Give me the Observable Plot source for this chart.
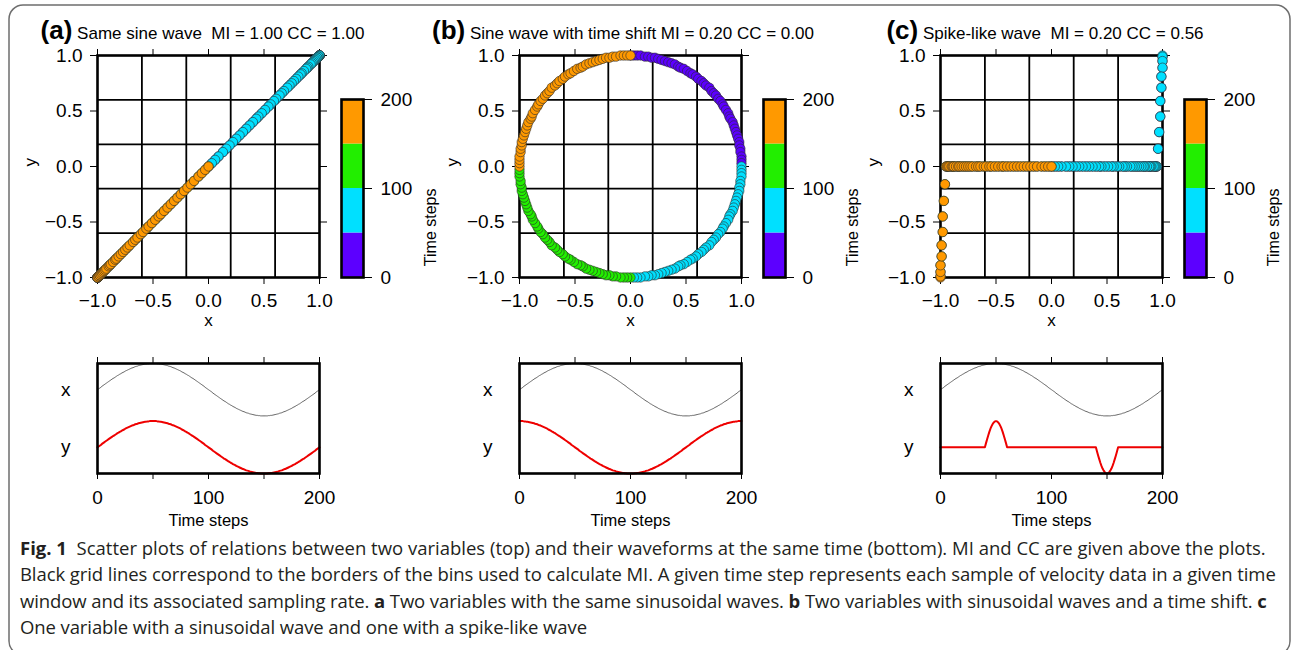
<!DOCTYPE html>
<html>
<head>
<meta charset="utf-8">
<script src="https://cdn.jsdelivr.net/npm/d3@7"></script>
<script src="https://cdn.jsdelivr.net/npm/@observablehq/plot@0.6"></script>
<style>
  html, body { margin: 0; padding: 0; background: #fff; }
  #root { position: relative; width: 1291px; height: 650px; overflow: hidden; background: #fff; }
  #overlay { position: absolute; left: 0; top: 0; }
  .cap { font-family: "Open Sans", "Noto Sans", sans-serif; font-size: 18.5px; fill: #231f20; white-space: pre; }
  .ttl { font-family: "Liberation Sans", Arial, sans-serif; fill: #000; white-space: pre; }
</style>
</head>
<body>
<div id="root">
<svg id="overlay" width="1291" height="650" xmlns="http://www.w3.org/2000/svg">
  <rect x="9" y="5" width="1281" height="650" rx="14" ry="14" fill="none" stroke="#6e6e6e" stroke-width="1.5"/>
  <g id="titles"></g>
  <text class="cap" x="20" y="555"><tspan font-weight="bold">Fig. 1</tspan>  Scatter plots of relations between two variables (top) and their waveforms at the same time (bottom). MI and CC are given above the plots.</text>
  <text class="cap" x="20" y="581" letter-spacing="-0.08">Black grid lines correspond to the borders of the bins used to calculate MI. A given time step represents each sample of velocity data in a given time</text>
  <text class="cap" x="20" y="607.5" letter-spacing="-0.1">window and its associated sampling rate. <tspan font-weight="bold">a</tspan> Two variables with the same sinusoidal waves. <tspan font-weight="bold">b</tspan> Two variables with sinusoidal waves and a time shift. <tspan font-weight="bold">c</tspan></text>
  <text class="cap" x="20" y="634" letter-spacing="-0.1">One variable with a sinusoidal wave and one with a spike-like wave</text>
</svg>
</div>
<script>
// ---------- data ----------
const timeSteps = d3.range(201); // sample index 0..200

const sineWave = [0,
 .03,.06,.09,.13,.16,.19,.22,.25,.28,.31,.34,.37,.40,.43,.45,.48,.51,.54,.56,.59,.61,.64,.66,.68,.71,.73,.75,.77,.79,.81,.83,.84,.86,.88,.89,.90,.92,.93,.94,.95,.96,.97,.98,.98,.99,.99,1,1,1,1,
 1,1,1,.99,.99,.98,.98,.97,.96,.95,.94,.93,.92,.90,.89,.88,.86,.84,.83,.81,.79,.77,.75,.73,.71,.68,.66,.64,.61,.59,.56,.54,.51,.48,.45,.43,.40,.37,.34,.31,.28,.25,.22,.19,.16,.13,.09,.06,.03,0,
 -.03,-.06,-.09,-.13,-.16,-.19,-.22,-.25,-.28,-.31,-.34,-.37,-.40,-.43,-.45,-.48,-.51,-.54,-.56,-.59,-.61,-.64,-.66,-.68,-.71,-.73,-.75,-.77,-.79,-.81,-.83,-.84,-.86,-.88,-.89,-.90,-.92,-.93,-.94,-.95,-.96,-.97,-.98,-.98,-.99,-.99,-1,-1,-1,-1,
 -1,-1,-1,-.99,-.99,-.98,-.98,-.97,-.96,-.95,-.94,-.93,-.92,-.90,-.89,-.88,-.86,-.84,-.83,-.81,-.79,-.77,-.75,-.73,-.71,-.68,-.66,-.64,-.61,-.59,-.56,-.54,-.51,-.48,-.45,-.43,-.40,-.37,-.34,-.31,-.28,-.25,-.22,-.19,-.16,-.13,-.09,-.06,-.03,0];

// y in (b): same sinusoid shifted by a quarter period
const cosWave = [1,
 1,1,1,.99,.99,.98,.98,.97,.96,.95,.94,.93,.92,.90,.89,.88,.86,.84,.83,.81,.79,.77,.75,.73,.71,.68,.66,.64,.61,.59,.56,.54,.51,.48,.45,.43,.40,.37,.34,.31,.28,.25,.22,.19,.16,.13,.09,.06,.03,0,
 -.03,-.06,-.09,-.13,-.16,-.19,-.22,-.25,-.28,-.31,-.34,-.37,-.40,-.43,-.45,-.48,-.51,-.54,-.56,-.59,-.61,-.64,-.66,-.68,-.71,-.73,-.75,-.77,-.79,-.81,-.83,-.84,-.86,-.88,-.89,-.90,-.92,-.93,-.94,-.95,-.96,-.97,-.98,-.98,-.99,-.99,-1,-1,-1,-1,
 -1,-1,-1,-.99,-.99,-.98,-.98,-.97,-.96,-.95,-.94,-.93,-.92,-.90,-.89,-.88,-.86,-.84,-.83,-.81,-.79,-.77,-.75,-.73,-.71,-.68,-.66,-.64,-.61,-.59,-.56,-.54,-.51,-.48,-.45,-.43,-.40,-.37,-.34,-.31,-.28,-.25,-.22,-.19,-.16,-.13,-.09,-.06,-.03,0,
 .03,.06,.09,.13,.16,.19,.22,.25,.28,.31,.34,.37,.40,.43,.45,.48,.51,.54,.56,.59,.61,.64,.66,.68,.71,.73,.75,.77,.79,.81,.83,.84,.86,.88,.89,.90,.92,.93,.94,.95,.96,.97,.98,.98,.99,.99,1,1,1,1];

// y in (c): spike-like wave (positive bump near t=50, negative near t=150)
const spikeWave = [
 0,0,0,0,0,0,0,0,0,0, 0,0,0,0,0,0,0,0,0,0, 0,0,0,0,0,0,0,0,0,0, 0,0,0,0,0,0,0,0,0,0, 0,
 .16,.31,.45,.59,.71,.81,.89,.95,.99,1,.99,.95,.89,.81,.71,.59,.45,.31,.16,
 0,0,0,0,0,0,0,0,0,0, 0,0,0,0,0,0,0,0,0,0, 0,0,0,0,0,0,0,0,0,0, 0,0,0,0,0,0,0,0,0,0,
 0,0,0,0,0,0,0,0,0,0, 0,0,0,0,0,0,0,0,0,0, 0,0,0,0,0,0,0,0,0,0, 0,0,0,0,0,0,0,0,0,0, 0,
 -.16,-.31,-.45,-.59,-.71,-.81,-.89,-.95,-.99,-1,-.99,-.95,-.89,-.81,-.71,-.59,-.45,-.31,-.16,
 0,0,0,0,0,0,0,0,0,0, 0,0,0,0,0,0,0,0,0,0, 0,0,0,0,0,0,0,0,0,0, 0,0,0,0,0,0,0,0,0,0, 0];

const panelTags = ["(a)", "(b)", "(c)"];
const panelTitles = ["Same sine wave  MI = 1.00 CC = 1.00",
                     "Sine wave with time shift MI = 0.20 CC = 0.00",
                     "Spike-like wave  MI = 0.20 CC = 0.56"];
const ySeries = [sineWave, cosWave, spikeWave];

const binEdges = [-0.6, -0.2, 0.2, 0.6];
const scatterTicks = [-1, -0.5, 0, 0.5, 1];
const colorThresholds = [50, 100, 150];
const colorRange = ["#5c00ff", "#00e0ff", "#22ee00", "#ff9900"];
const colorbarLow = [0, 50, 100, 150];
const colorbarHigh = [50, 100, 150, 200];
const colorbarTicks = [0, 100, 200];
const waveTicks = [0, 50, 100, 150, 200];
const waveLabelTicks = [0, 100, 200];
const traceNames = ["x", "y"];

// ---------- drawing ----------
const FONT = '"Liberation Sans", Arial, Helvetica, sans-serif';
const fmt1 = d3.format(".1f");
const traceOffset = 2.2;
const offsets = [0, 422, 843];
const root = document.getElementById("root");
const colorScale = {type: "threshold", domain: colorThresholds, range: colorRange};
const baseStyle = {background: "transparent", fontFamily: FONT, fontSize: "19px", color: "#000", overflow: "visible"};

function place(node, left, top) {
  const d = document.createElement("div");
  d.style.cssText = `position:absolute;left:${left}px;top:${top}px;`;
  d.appendChild(node);
  root.appendChild(d);
}

function scatter(yVals) {
  return Plot.plot({
    width: 340, height: 305, marginLeft: 97, marginRight: 21, marginTop: 25, marginBottom: 58,
    style: baseStyle,
    x: {domain: [-1, 1]}, y: {domain: [-1, 1]},
    color: colorScale,
    marks: [
      Plot.ruleX(binEdges, {stroke: "#000", strokeWidth: 1.8}),
      Plot.ruleY(binEdges, {stroke: "#000", strokeWidth: 1.8}),
      Plot.frame({stroke: "#000", strokeWidth: 2.6}),
      Plot.axisX(scatterTicks, {anchor: "bottom", tickSize: 7, tickPadding: 9, tickFormat: fmt1, label: null}),
      Plot.axisX(scatterTicks, {anchor: "top", tickSize: 7, tickFormat: () => "", label: null}),
      Plot.axisY(scatterTicks, {anchor: "left", tickSize: 7, tickPadding: 8, tickFormat: fmt1, label: null}),
      Plot.axisY(scatterTicks, {anchor: "right", tickSize: 7, tickFormat: () => "", label: null}),
      Plot.dot(timeSteps, {x: sineWave, y: yVals, fill: timeSteps, r: 4.7, stroke: "#2a2a2a", strokeWidth: 0.6}),
      Plot.text(["x"], {frameAnchor: "bottom", dy: 48, fontSize: 17}),
      Plot.text(["y"], {frameAnchor: "left", dx: -67, rotate: -90, fontSize: 17})
    ]
  });
}

function colorbar() {
  return Plot.plot({
    width: 113, height: 305, marginLeft: 11, marginRight: 80, marginTop: 69, marginBottom: 58,
    style: baseStyle,
    x: {domain: [0, 1], axis: null}, y: {domain: [0, 200]},
    color: colorScale,
    marks: [
      Plot.rect(colorbarLow, {x1: 0, x2: 1, y1: colorbarLow, y2: colorbarHigh, fill: colorbarLow}),
      Plot.frame({stroke: "#000", strokeWidth: 2.6}),
      Plot.axisY(colorbarTicks, {anchor: "right", tickSize: 8, tickPadding: 9, tickFormat: d => String(d), label: null}),
      Plot.text(["Time steps"], {frameAnchor: "right", dx: 67, rotate: -90, fontSize: 16})
    ]
  });
}

function waves(yVals) {
  return Plot.plot({
    width: 340, height: 193, marginLeft: 97, marginRight: 21, marginTop: 23, marginBottom: 60,
    style: baseStyle,
    x: {domain: [0, 200]}, y: {domain: [-1, 3.2]},
    marks: [
      Plot.line(timeSteps, {x: timeSteps, y: (d, i) => sineWave[i] + traceOffset, stroke: "#555", strokeWidth: 0.9}),
      Plot.line(timeSteps, {x: timeSteps, y: yVals, stroke: "#ee0000", strokeWidth: 2}),
      Plot.frame({stroke: "#000", strokeWidth: 2.6}),
      Plot.axisX(waveTicks, {anchor: "bottom", tickSize: 6, tickPadding: 11,
        tickFormat: d => waveLabelTicks.includes(d) ? String(d) : "", label: null}),
      Plot.axisX(waveTicks, {anchor: "top", tickSize: 7, tickFormat: () => "", label: null}),
      Plot.axisY([traceOffset, 0], {anchor: "left", tickSize: 0, tickPadding: 27,
        tickFormat: (d, i) => traceNames[i], label: null}),
      Plot.text(["Time steps"], {frameAnchor: "bottom", dy: 52, fontSize: 16.5})
    ]
  });
}

const titles = document.getElementById("titles");
const titleCenters = [202.5, 623, 1045];
ySeries.forEach((yVals, i) => {
  const ox = offsets[i];
  place(scatter(yVals), ox, 30);
  place(colorbar(), ox + 330, 30);
  place(waves(yVals), ox, 340);
  const t = document.createElementNS("http://www.w3.org/2000/svg", "text");
  t.setAttribute("class", "ttl");
  t.setAttribute("x", titleCenters[i]);
  t.setAttribute("y", 39);
  t.setAttribute("text-anchor", "middle");
  const a = document.createElementNS("http://www.w3.org/2000/svg", "tspan");
  a.setAttribute("font-weight", "bold");
  a.setAttribute("font-size", "26");
  a.textContent = panelTags[i];
  const b = document.createElementNS("http://www.w3.org/2000/svg", "tspan");
  b.setAttribute("font-size", "17");
  b.textContent = " " + panelTitles[i];
  t.appendChild(a); t.appendChild(b);
  titles.appendChild(t);
});
</script>
</body>
</html>
